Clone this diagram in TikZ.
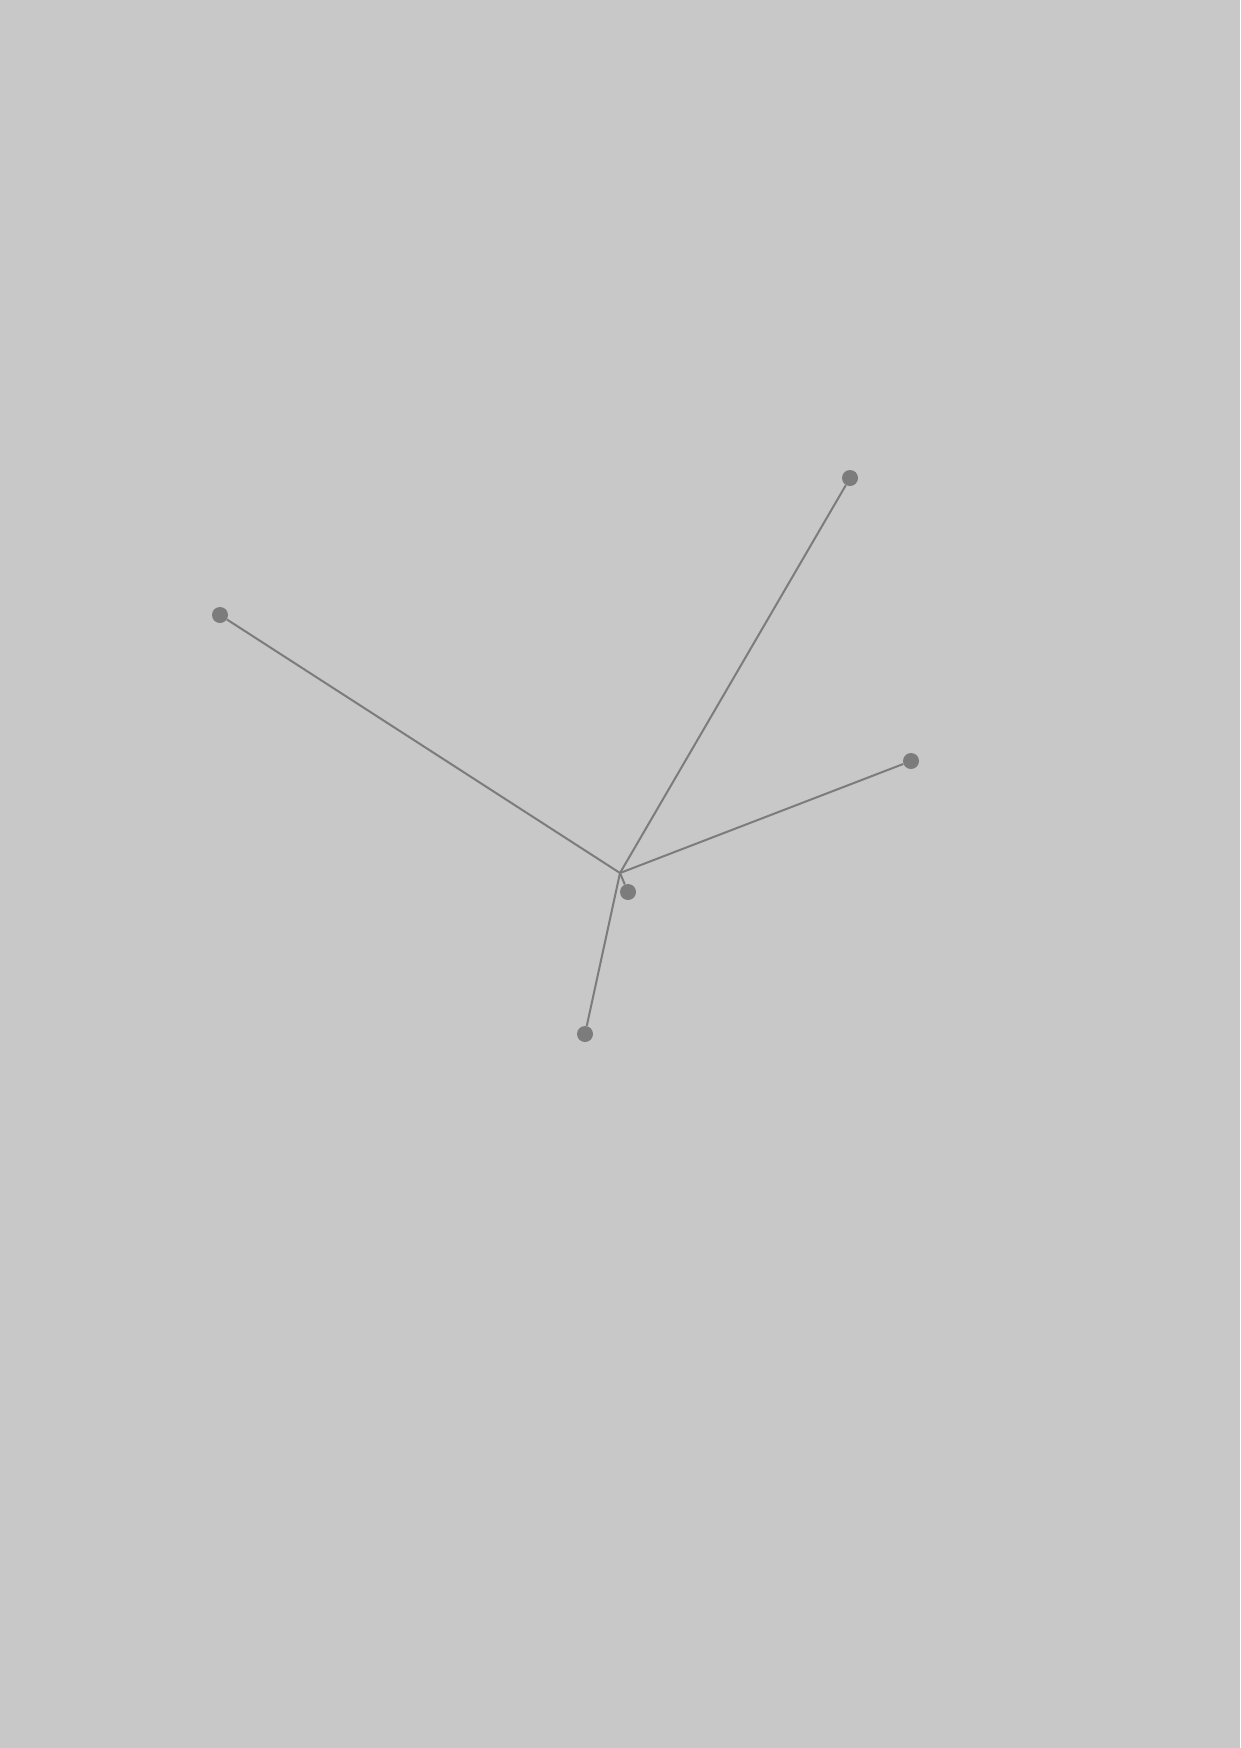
\documentclass[tikz,border=0pt]{standalone}
\usepackage{tikz}
\usetikzlibrary{shapes, arrows.meta}

\definecolor{bgray}{RGB}{200,200,200}
\definecolor{lgray}{RGB}{124,124,124}

\tikzset{
    tip/.style={circle, fill=lgray, draw=none, minimum size=16pt, inner sep=0pt},
    arm/.style={draw=lgray, line width=2pt}
}

\begin{document}
\begin{tikzpicture}[x=1pt, y=-1pt]
            \fill[bgray] (0, 0) rectangle (1240, 1748);
            \useasboundingbox (0, 0) rectangle (1240, 1748);
            \coordinate (hub) at (620, 873);
            \node[tip] (top) at (850, 478) {};
            \node[tip] (left) at (220, 615) {};
            \node[tip] (right) at (911, 761) {};
            \node[tip] (near) at (628, 892) {};
            \node[tip] (bottom) at (585, 1034) {};
            \draw[arm] (hub) -- (top);
            \draw[arm] (hub) -- (left);
            \draw[arm] (hub) -- (right);
            \draw[arm] (hub) -- (near);
            \draw[arm] (hub) -- (bottom);
        \end{tikzpicture}
\end{document}
